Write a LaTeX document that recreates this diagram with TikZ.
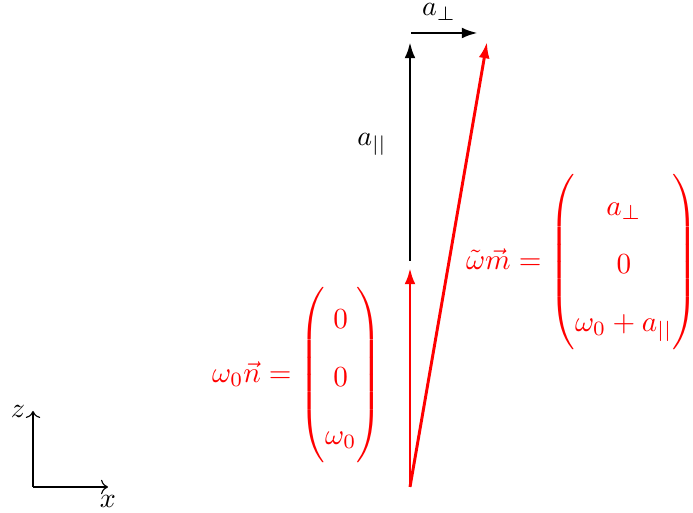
\documentclass[tikz,border=0pt]{standalone}
\usepackage{amsmath}
\usepackage{graphicx}
\usetikzlibrary{arrows.meta}
\begin{document}
\begin{tikzpicture}[x=0.35714pt, y=-0.35714pt,
  vec/.style={line width=1.05pt,-{Latex[length=5.8pt,width=3.9pt]}},
  axis/.style={->}]
\useasboundingbox (0,0) rectangle (693,513);
% points
\coordinate (O) at (410,487);
\coordinate (N) at (410,268);
\coordinate (P0) at (410,261);
\coordinate (P1) at (410,42);
\coordinate (Q0) at (411,33);
\coordinate (Q1) at (478,33);
\coordinate (M) at (487,42);
\coordinate (A) at (33,487);
\coordinate (AZ) at (33,411);
\coordinate (AX) at (108,487);
% axes
\draw[axis] (A) -- (AZ);
\draw[axis] (A) -- (AX);
\node (zl) at (18,411) {$z$};
\node (xl) at (108,501) {$x$};
% vectors
\draw[vec,red] (O) -- (N);
\draw[vec] (P0) -- (P1);
\draw[vec] (Q0) -- (Q1);
\draw[vec,red] (O) -- (M);
% labels
\node (apar) at (372,144) {$a_{||}$};
\node (aperp) at (439,12) {$a_\perp$};
\renewcommand{\arraystretch}{1.66}
\node[red] (mL) at (297,375) {\scalebox{1.04}{$\omega_0\vec{n} = \begin{pmatrix}0\\0\\\omega_0\end{pmatrix}$}};
\node[red] (mR) at (582,262) {\scalebox{1.04}{$\tilde\omega\vec{m} = \begin{pmatrix}a_\perp\\0\\\omega_0+a_{||}\end{pmatrix}$}};
\end{tikzpicture}
\end{document}
